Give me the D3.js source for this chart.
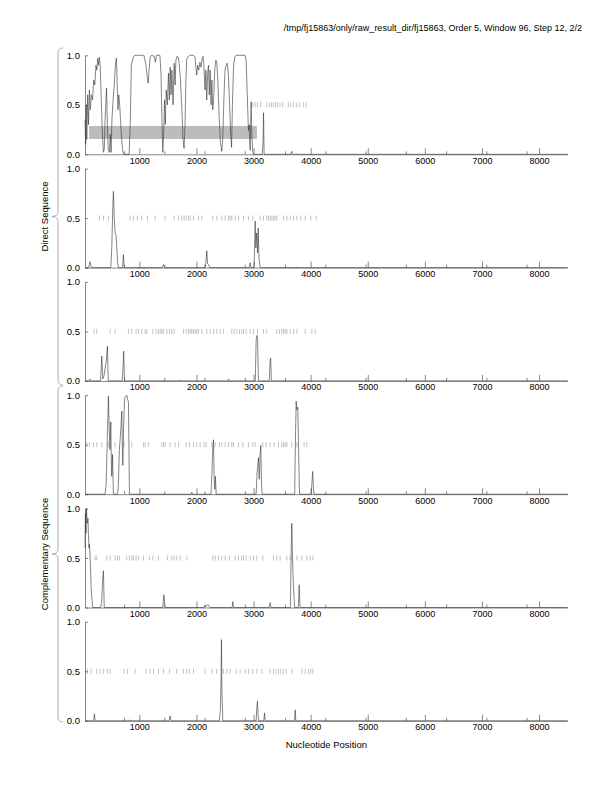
<!DOCTYPE html>
<html>
<head>
<meta charset="utf-8">
<script src="https://cdn.jsdelivr.net/npm/d3@7"></script>
<style>
  body { margin: 0; background: #fff; }
  text { font-family: "Liberation Sans", Arial, sans-serif; }
</style>
</head>
<body>
<svg id="chart" width="612" height="792"></svg>
<script>
// titles and labels
const title = '/tmp/fj15863/only/raw_result_dir/fj15863, Order 5, Window 96, Step 12, 2/2';
const xTitle = 'Nucleotide Position';
const groupLabels = ['Direct Sequence', 'Complementary Sequence'];

const xTicks = [1000, 2000, 3000, 4000, 5000, 6000, 7000, 8000];
const xMinorTicks = [732, 1437, 2142, 2847, 3552, 4257, 4962, 5667, 6372, 7077, 7782];
const yTicks = [0, 0.5, 1];

// coding potential, [position, value], one per panel
const frame1 = [[48,0.35],[60,0.1],[70,0.5],[80,0.15],[95,0.6],[110,0.3],[125,0.65],[140,0.45],[160,0.6],[180,0.55],
  [200,0.75],[220,0.7],[240,0.9],[255,0.85],[270,0.97],[285,0.9],[300,0.98],[315,0.88],[330,0.6],[350,0.25],[370,0.02],
  [385,0.05],[400,0.35],[415,0.55],[425,0.67],[440,0.3],[455,0.05],[475,0.02],[490,0.2],[505,0.02],[520,0.35],[540,0.55],
  [560,0.7],[580,0.9],[598,0.97],[610,0.75],[625,0.45],[640,0.6],[655,0.5],[670,0.35],[690,0.15],[710,0.02],[730,0],
  [820,0],[840,0.3],[860,0.9],[880,0.95],[900,0.99],[920,1],[1080,1],[1110,0.92],[1140,0.78],[1155,0.72],[1170,0.85],
  [1190,0.98],[1210,1],[1260,0.99],[1280,0.93],[1300,1],[1360,1],[1380,0.8],[1395,0.35],[1410,0.02],[1425,0.2],
  [1440,0.55],[1455,0.3],[1470,0.65],[1490,0.5],[1510,0.82],[1525,0.55],[1540,0.88],[1555,0.6],[1570,0.85],[1590,0.5],
  [1610,0.92],[1625,0.7],[1640,0.95],[1660,0.99],[1684,0.98],[1700,0.9],[1720,0.75],[1745,0.45],[1765,0.15],[1783,0.06],
  [1800,0.3],[1815,0.75],[1830,0.96],[1860,0.99],[1880,1],[1950,1],[1975,0.98],[1990,0.88],[2005,0.8],[2020,0.9],
  [2040,0.85],[2060,0.93],[2080,0.88],[2100,0.97],[2115,0.99],[2130,0.9],[2150,0.65],[2165,0.85],[2180,0.55],[2195,0.8],
  [2210,0.9],[2225,0.6],[2240,0.85],[2255,0.5],[2270,0.75],[2285,0.45],[2300,0.55],[2320,0.85],[2340,0.95],[2355,0.93],
  [2375,0.75],[2395,0.4],[2420,0.12],[2443,0.03],[2460,0.15],[2480,0.55],[2500,0.85],[2520,0.9],[2540,0.92],[2560,0.8],
  [2580,0.5],[2600,0.2],[2615,0.07],[2630,0.5],[2650,0.9],[2670,0.98],[2695,1],[2850,1],[2870,0.95],[2890,0.6],
  [2910,0.24],[2925,0.3],[2940,0.04],[2957,0.53],[2970,0.2],[2986,0.02],[3000,0],[3150,0],[3165,0.1],[3175,0.42],
  [3185,0],[3650,0],[3670,0.03],[3680,0],[8500,0]];
const frame2 = [[48,0],[110,0],[137,0.06],[160,0],[500,0],[517,0.2],[535,0.6],[546,0.77],[560,0.5],[575,0.35],[590,0.33],
  [605,0.21],[620,0.05],[633,0],[705,0],[721,0.13],[735,0],[1400,0],[1422,0.03],[1440,0],[2150,0],[2165,0.05],[2181,0.17],
  [2195,0.04],[2215,0.03],[2230,0],[2925,0],[2940,0.05],[2955,0],[3010,0],[3028,0.47],[3040,0.2],[3055,0.35],[3070,0.15],
  [3081,0.4],[3095,0.1],[3115,0],[8500,0]];
const frame3 = [[48,0],[120,0],[137,0.02],[150,0],[320,0],[342,0.25],[360,0.02],[380,0.05],[420,0.2],[441,0.35],[455,0],
  [700,0],[715,0.15],[725,0.3],[740,0],[1700,0],[1714,0.01],[1730,0],[2545,0],[2561,0.02],[2575,0],[3030,0],[3046,0.42],
  [3058,0.46],[3070,0.43],[3085,0],[3275,0],[3290,0.2],[3300,0.23],[3312,0],[8500,0]];
const frame4 = [[48,0],[400,0],[418,0.1],[440,0.6],[458,0.99],[470,0.7],[485,0.45],[500,0.73],[510,0.3],[517,0.18],
  [530,0.4],[546,0],[620,0],[633,0.1],[650,0.45],[663,0.55],[680,0.7],[692,0.84],[702,0.5],[710,0.29],[725,0.7],[740,0.95],
  [750,0.98],[780,1],[795,0.96],[809,0.93],[826,0],[1905,0],[1918,0.02],[1930,0],[2255,0],[2270,0.2],[2285,0.45],
  [2298,0.55],[2310,0.15],[2320,0.05],[2333,0.18],[2345,0],[3045,0],[3060,0.2],[3075,0.3],[3086,0.37],[3100,0.15],
  [3115,0.4],[3127,0.49],[3140,0.1],[3150,0],[3720,0],[3735,0.6],[3746,0.94],[3760,0.85],[3775,0.88],[3790,0.4],[3805,0],
  [4010,0],[4021,0.1],[4035,0.23],[4050,0.05],[4060,0],[8500,0]];
const frame5 = [[48,0.6],[55,0.95],[65,0.75],[75,1],[85,0.85],[100,0.9],[108,0.74],[118,0.6],[126,0.64],[140,0.47],
  [155,0.2],[166,0.1],[184,0],[320,0],[340,0.05],[355,0.25],[371,0.37],[385,0],[1410,0],[1430,0.13],[1445,0.02],[1460,0],
  [2130,0],[2150,0.02],[2170,0.01],[2200,0.03],[2220,0.01],[2240,0],[2625,0],[2637,0.06],[2650,0],[3275,0],[3290,0.05],
  [3305,0],[3645,0],[3660,0.6],[3670,0.85],[3680,0.55],[3690,0.35],[3700,0.2],[3720,0],[3785,0],[3799,0.23],[3815,0],
  [8500,0]];
const frame6 = [[48,0],[200,0],[213,0.07],[225,0],[825,0],[838,0.01],[850,0],[1520,0],[1539,0.05],[1555,0],[2400,0],
  [2418,0.1],[2430,0.4],[2438,0.82],[2446,0.3],[2462,0],[3045,0],[3060,0.15],[3069,0.2],[3080,0.05],[3090,0],[3180,0],
  [3192,0.08],[3205,0],[3718,0],[3729,0.11],[3740,0],[8500,0]];

// stop codon positions drawn at the 0.5 line
const stops1 = [2986,3027,3068,3126,3231,3277,3312,3347,3382,3417,3464,3510,3610,3651,3697,3756,3802,3872,3919];
const stops2 = [301,371,458,838,896,966,1042,1142,1276,1451,1609,1685,1743,1784,1819,1860,1889,1948,2035,2094,2286,
  2356,2444,2502,2561,2590,2619,2678,2736,2824,2911,2987,3116,3174,3232,3262,3291,3320,3349,3378,3408,3524,3583,3641,
  3700,3758,3828,3904,4003,4097];
const stops3 = [207,254,488,575,809,867,943,984,1042,1101,1130,1235,1294,1334,1364,1393,1422,1480,1527,1568,1609,1772,
  1819,1860,1889,1918,1948,1977,2006,2035,2094,2181,2240,2298,2356,2415,2473,2619,2660,2707,2754,2794,2824,2870,2940,
  2999,3069,3174,3232,3408,3454,3495,3524,3554,3583,3641,3700,3758,3904,4021,4079];
const stops4 = [79,126,196,254,342,458,575,733,867,1072,1101,1159,1393,1422,1451,1539,1626,1685,1819,1878,1948,2006,
  2064,2134,2170,2269,2327,2403,2444,2502,2561,2619,2648,2736,2812,2911,2987,3028,3162,3221,3291,3361,3437,3495,3524,
  3554,3583,3670,3758,3886,3933];
const stops5 = [225,254,429,488,575,616,651,780,826,867,896,943,984,1072,1177,1235,1334,1492,1568,1609,1656,1714,1831,
  2286,2327,2386,2444,2502,2578,2678,2736,2794,2824,2870,2940,2999,3057,3162,3349,3408,3466,3583,3641,3758,3846,3933,
  3992,4038];
const stops6 = [90,155,254,312,371,441,488,733,791,926,1118,1188,1247,1334,1422,1527,1656,1772,1831,1878,1948,2152,
  2269,2356,2473,2532,2590,2695,2765,2853,2911,2987,3057,3145,3291,3349,3396,3437,3478,3524,3571,3670,3846,3904,3962,
  4003,4038];

// predicted gene (grey box) in panel 1: [start, end, low, high]
const gene1 = [120, 3060, 0.155, 0.286];

const frames = [frame1, frame2, frame3, frame4, frame5, frame6];
const stops = [stops1, stops2, stops3, stops4, stops5, stops6];

const svg = d3.select('#chart');
const left = 85, right = 567.6, top0 = 55.3, step = 113.3, ph = 99;
const axisColor = '#555';

const x = d3.scaleLinear().domain([48, 8500]).range([left, right]);

svg.append('text')
    .attr('x', 582)
    .attr('y', 31)
    .attr('text-anchor', 'end')
    .style('font-size', '9px')
    .text(title);

frames.forEach(function (data, i) {
    const y0 = top0 + i * step;
    const y = d3.scaleLinear().domain([0, 1]).range([y0 + ph, y0]);
    const g = svg.append('g');

    if (i === 0) {
        g.append('rect')
            .attr('x', x(gene1[0]))
            .attr('width', x(gene1[1]) - x(gene1[0]))
            .attr('y', y(gene1[3]))
            .attr('height', y(gene1[2]) - y(gene1[3]))
            .attr('fill', '#bcbcbc');
    }

    // stop codons
    g.selectAll('.stop')
        .data(stops[i])
        .enter()
        .append('line')
        .attr('x1', d => x(d))
        .attr('x2', d => x(d))
        .attr('y1', y(0.5) - 2.5)
        .attr('y2', y(0.5) + 2.5)
        .attr('stroke', '#999')
        .attr('stroke-width', 0.6);

    // x axis, ticks pointing up into the panel
    const xa = g.append('g').attr('transform', 'translate(0,' + y(0) + ')');
    xa.call(d3.axisBottom(x).tickValues(xTicks).tickSize(-6).tickSizeOuter(0).tickPadding(3).tickFormat(d3.format('d')));
    xa.append('g').call(d3.axisBottom(x).tickValues(xMinorTicks).tickSize(-3).tickSizeOuter(0).tickFormat(''))
        .select('.domain').remove();
    xa.selectAll('path, line').attr('stroke', axisColor).attr('stroke-width', 0.7);
    xa.selectAll('text').style('font-size', '9px').attr('fill', '#000').style('font-family', '"Liberation Sans", Arial, sans-serif');

    // y axis, ticks pointing right
    const ya = g.append('g').attr('transform', 'translate(' + left + ',0)');
    ya.call(d3.axisLeft(y).tickValues(yTicks).tickSize(-3).tickSizeOuter(0).tickPadding(5).tickFormat(d3.format('.1f')));
    ya.selectAll('path, line').attr('stroke', axisColor).attr('stroke-width', 0.7);
    ya.selectAll('text').style('font-size', '9.5px').attr('fill', '#000').style('font-family', '"Liberation Sans", Arial, sans-serif');

    const line = d3.line().x(d => x(d[0])).y(d => y(d[1]));
    g.append('path')
        .datum(data)
        .attr('d', line)
        .attr('fill', 'none')
        .attr('stroke', '#333')
        .attr('stroke-width', 0.6);
});

// braces on the left
function brace(yTop, yBot) {
    const xe = 63, xv = 58, xt = 52, ym = (yTop + yBot) / 2;
    return 'M' + xe + ',' + yTop + ' Q' + xv + ',' + yTop + ' ' + xv + ',' + (yTop + 5) +
        ' L' + xv + ',' + (ym - 5) + ' Q' + xv + ',' + ym + ' ' + xt + ',' + ym +
        ' Q' + xv + ',' + ym + ' ' + xv + ',' + (ym + 5) +
        ' L' + xv + ',' + (yBot - 5) + ' Q' + xv + ',' + yBot + ' ' + xe + ',' + yBot;
}
const braceSpans = [[48, 385], [386, 722]];
braceSpans.forEach(function (s, i) {
    svg.append('path')
        .attr('d', brace(s[0], s[1]))
        .attr('fill', 'none')
        .attr('stroke', '#999')
        .attr('stroke-width', 0.8);
    const cy = (s[0] + s[1]) / 2;
    svg.append('text')
        .attr('transform', 'translate(48,' + cy + ') rotate(-90)')
        .attr('text-anchor', 'middle')
        .style('font-size', '9.5px')
        .text(groupLabels[i]);
});

svg.append('text')
    .attr('x', (left + right) / 2)
    .attr('y', 748)
    .attr('text-anchor', 'middle')
    .style('font-size', '9.5px')
    .text(xTitle);
</script>
</body>
</html>
